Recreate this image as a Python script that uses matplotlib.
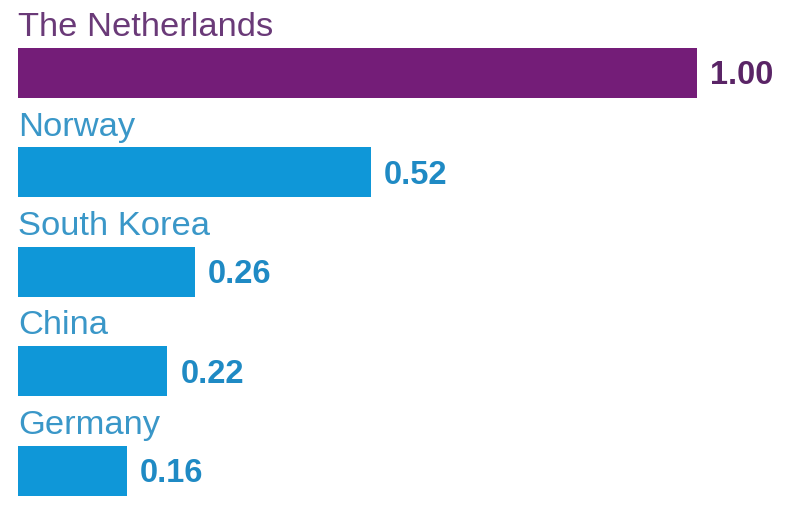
import matplotlib
matplotlib.use("Agg")
import matplotlib.pyplot as plt

countries = ["The Netherlands", "Norway", "South Korea", "China", "Germany"]
values = [1.00, 0.52, 0.26, 0.22, 0.16]
value_labels = ["1.00", "0.52", "0.26", "0.22", "0.16"]

purple = "#741d78"
blue = "#0f97d8"
bar_colors = [purple] + [blue] * 4
text_colors = ["#6a3a78"] + ["#3a97c8"] * 4
value_colors = ["#5a2466"] + ["#1f8ac4"] * 4

plt.rcParams['font.family'] = ['Liberation Sans', 'DejaVu Sans']

W, H = 800, 509
fig = plt.figure(figsize=(W / 100, H / 100), dpi=100)
x0, x1 = 18, 697
ax = fig.add_axes([x0 / W, 0, (x1 - x0) / W, 1])
spacing = 99.4
top_center = 73
ax.set_ylim((H - top_center) / spacing, -top_center / spacing)
ax.set_xlim(0, 1.0)
ax.axis('off')

ypos = list(range(len(countries)))
ax.barh(ypos, values, height=50 / spacing, color=bar_colors, left=0)

px = 1.0 / (x1 - x0)
for i, (c, v, lab) in enumerate(zip(countries, values, value_labels)):
    ax.text(0, i - 0.37, c, color=text_colors[i], fontsize=24.8,
            va='baseline', ha='left', clip_on=False)
    ax.text(v + 13 * px, i + 0.03, lab, color=value_colors[i], fontsize=23.5,
            fontweight='bold', va='center', ha='left', clip_on=False)

fig.savefig("out.png", dpi=100)
